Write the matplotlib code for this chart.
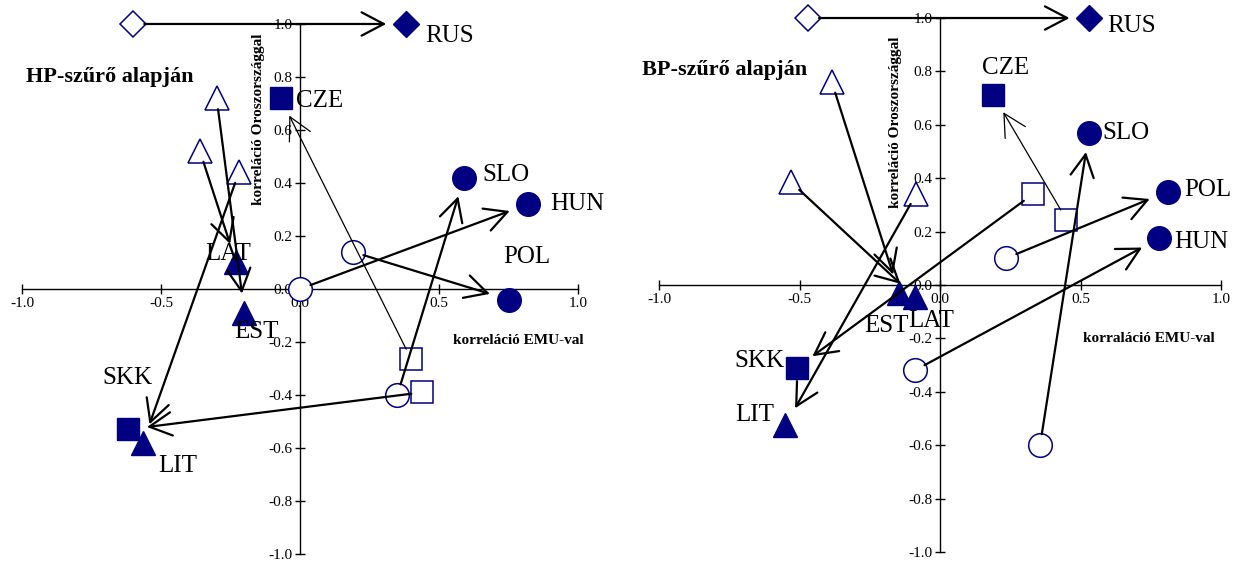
import matplotlib
matplotlib.use("Agg")
import matplotlib.pyplot as plt

plt.rcParams['font.family'] = ['Liberation Serif', 'DejaVu Serif']
plt.rcParams['axes.unicode_minus'] = False

NAVY = '#000080'

countries = ['RUS', 'CZE', 'SKK', 'SLO', 'HUN', 'POL', 'LAT', 'EST', 'LIT']
markers = ['D', 's', 's', 'o', 'o', 'o', '^', '^', '^']

# HP-szűrő: korábbi időszak (üres jel) -> későbbi időszak (teli jel)
hp_x0 = [-0.60, 0.40, 0.44, 0.35, 0.00, 0.19, -0.36, -0.30, -0.22]
hp_y0 = [1.00, -0.265, -0.39, -0.40, 0.00, 0.14, 0.52, 0.72, 0.44]
hp_x1 = [0.38, -0.07, -0.62, 0.59, 0.82, 0.75, -0.23, -0.20, -0.565]
hp_y1 = [1.00, 0.72, -0.53, 0.42, 0.32, -0.04, 0.10, -0.09, -0.58]

# BP-szűrő
bp_x0 = [-0.47, 0.45, 0.33, 0.356, -0.09, 0.235, -0.53, -0.385, -0.085]
bp_y0 = [1.00, 0.245, 0.34, -0.60, -0.32, 0.10, 0.385, 0.76, 0.34]
bp_x1 = [0.53, 0.19, -0.51, 0.53, 0.78, 0.81, -0.09, -0.146, -0.55]
bp_y1 = [1.00, 0.71, -0.31, 0.57, 0.175, 0.35, -0.045, -0.03, -0.525]

xticks = [-1.0, -0.5, 0.0, 0.5, 1.0]
yticks = [-1.0, -0.8, -0.6, -0.4, -0.2, 0.0, 0.2, 0.4, 0.6, 0.8, 1.0]

# címkék eltolása pontban: (dx, dy, vízszintes igazítás)
hp_lab = {'RUS': (14, -9, 'left'), 'CZE': (11, -2, 'left'), 'SKK': (0, 37, 'center'),
          'SLO': (13, 2, 'left'), 'HUN': (16, 0, 'left'), 'POL': (-4, 31, 'left'),
          'LAT': (-6, 6, 'center'), 'EST': (9, -14, 'center'), 'LIT': (11, -17, 'left')}
bp_lab = {'RUS': (13, -6, 'left'), 'CZE': (9, 20, 'center'), 'SKK': (-9, 5, 'right'),
          'SLO': (10, 0, 'left'), 'HUN': (11, -3, 'left'), 'POL': (12, 1, 'left'),
          'LAT': (12, -17, 'center'), 'EST': (-9, -24, 'center'), 'LIT': (-8, 7, 'right')}
msize = {'D': 13, 's': 16, 'o': 17, '^': 17}

fig = plt.figure(figsize=(12.39, 5.63), dpi=100)
ax1 = fig.add_axes([0.0178, 0.016, 0.4487, 0.9414])
ax2 = fig.add_axes([0.5319, 0.0195, 0.4536, 0.9485])


def panel(ax, x0, y0, x1, y1, labels, title, xlab, title_xy, xlab_xy, ylab_xy):
    ax.set_xlim(-1, 1)
    ax.set_ylim(-1, 1)
    ax.patch.set_visible(False)
    for s in ['top', 'right']:
        ax.spines[s].set_visible(False)
    ax.spines['left'].set_position(('data', 0))
    ax.spines['bottom'].set_position(('data', 0))
    ax.spines['left'].set_linewidth(1.0)
    ax.spines['bottom'].set_linewidth(1.0)
    ax.set_xticks(xticks)
    ax.set_yticks(yticks)
    ax.set_xticklabels(['%.1f' % v for v in xticks])
    ax.set_yticklabels(['%.1f' % v for v in yticks])
    ax.tick_params(direction='inout', length=7, width=1, labelsize=11, pad=2)

    for i, c in enumerate(countries):
        ms = msize[markers[i]]
        ax.plot(x0[i], y0[i], marker=markers[i], ms=ms, mfc='white', mec=NAVY,
                mew=1.1, ls='none', clip_on=False, zorder=3)
        ax.plot(x1[i], y1[i], marker=markers[i], ms=ms, mfc=NAVY, mec=NAVY,
                ls='none', clip_on=False, zorder=3)
        lw = 0.9 if c == 'CZE' else 1.6
        ax.annotate('', xy=(x1[i], y1[i]), xytext=(x0[i], y0[i]),
                    arrowprops=dict(arrowstyle='->,head_length=0.8,head_width=0.42',
                                    mutation_scale=20, color='black', lw=lw,
                                    shrinkA=8, shrinkB=14),
                    zorder=4, annotation_clip=False)
        dx, dy, ha = labels[c]
        ax.annotate(c, xy=(x1[i], y1[i]), xytext=(dx, dy), textcoords='offset points',
                    ha=ha, va='center', fontsize=18, zorder=5, annotation_clip=False)

    ax.text(title_xy[0], title_xy[1], title, fontsize=16, fontweight='bold',
            ha='left', va='center')
    ax.text(xlab_xy[0], xlab_xy[1], xlab, fontsize=11, fontweight='bold',
            ha='left', va='center')
    ax.text(ylab_xy[0], ylab_xy[1], 'korreláció Oroszországgal', fontsize=11,
            fontweight='bold', rotation=90, ha='center', va='center')


panel(ax1, hp_x0, hp_y0, hp_x1, hp_y1, hp_lab, 'HP-szűrő alapján',
      'korreláció EMU-val', (-0.985, 0.80), (0.55, -0.196), (-0.15, 0.64))
panel(ax2, bp_x0, bp_y0, bp_x1, bp_y1, bp_lab, 'BP-szűrő alapján',
      'korraláció EMU-val', (-1.06, 0.805), (0.51, -0.20), (-0.16, 0.61))

fig.savefig('out.png', dpi=100)
